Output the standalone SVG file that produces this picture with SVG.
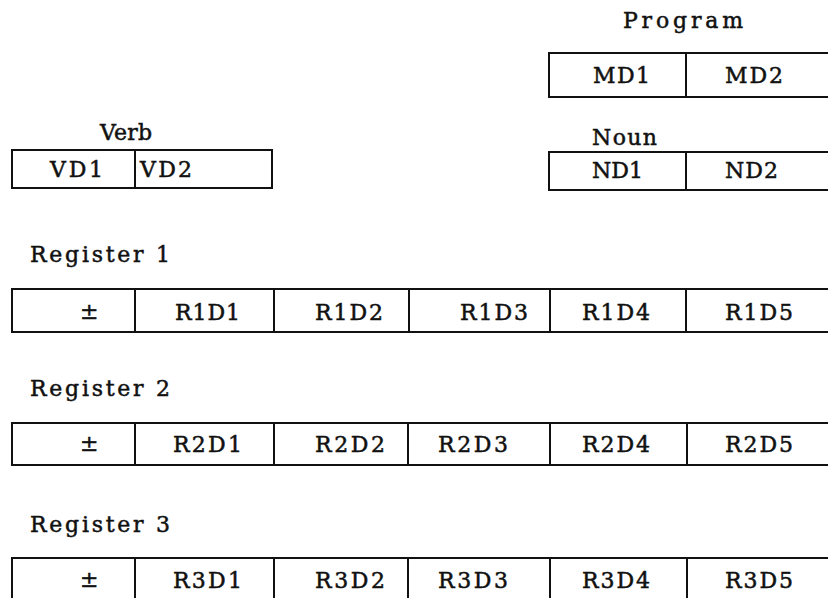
<svg xmlns="http://www.w3.org/2000/svg" width="828" height="598" viewBox="0 0 828 598">
<style>
rect.c{fill:none;stroke:#111;stroke-width:2}
text{font-family:"DejaVu Serif","Liberation Serif",serif;font-size:22px;fill:#111;stroke:#111;stroke-width:0.5}
</style>
<rect width="828" height="598" fill="#fff"/>
<g id="connectors"/>
<g id="program">
<text x="623" y="28" textLength="120" lengthAdjust="spacing">Program</text>
<g id="MD1"><rect class="c" x="549" y="53" width="137" height="44"/><text x="593" y="83" textLength="57" lengthAdjust="spacing">MD1</text></g>
<g id="MD2"><rect class="c" x="686" y="53" width="150" height="44"/><text x="725" y="83" textLength="58" lengthAdjust="spacing">MD2</text></g>
</g>
<g id="verb">
<text x="100" y="140" textLength="52" lengthAdjust="spacing">Verb</text>
<g id="VD1"><rect class="c" x="12" y="150" width="123" height="38"/><text x="50" y="177" textLength="53" lengthAdjust="spacing">VD1</text></g>
<g id="VD2"><rect class="c" x="135" y="150" width="137" height="38"/><text x="140" y="177" textLength="52" lengthAdjust="spacing">VD2</text></g>
</g>
<g id="noun">
<text x="592" y="145" textLength="65" lengthAdjust="spacing">Noun</text>
<g id="ND1"><rect class="c" x="549" y="152" width="137" height="38"/><text x="592" y="178" textLength="51" lengthAdjust="spacing">ND1</text></g>
<g id="ND2"><rect class="c" x="686" y="152" width="150" height="38"/><text x="725" y="178" textLength="53" lengthAdjust="spacing">ND2</text></g>
</g>
<g id="register1">
<text x="30" y="262" textLength="140" lengthAdjust="spacing">Register 1</text>
<g id="R1S"><rect class="c" x="12" y="289" width="123" height="43"/><text x="80" y="319">±</text></g>
<g id="R1D1"><rect class="c" x="135" y="289" width="139" height="43"/><text x="175" y="320" textLength="65" lengthAdjust="spacing">R1D1</text></g>
<g id="R1D2"><rect class="c" x="274" y="289" width="135" height="43"/><text x="315" y="320" textLength="68" lengthAdjust="spacing">R1D2</text></g>
<g id="R1D3"><rect class="c" x="409" y="289" width="141" height="43"/><text x="460" y="320" textLength="68" lengthAdjust="spacing">R1D3</text></g>
<g id="R1D4"><rect class="c" x="550" y="289" width="136" height="43"/><text x="582" y="320" textLength="68" lengthAdjust="spacing">R1D4</text></g>
<g id="R1D5"><rect class="c" x="686" y="289" width="150" height="43"/><text x="725" y="320" textLength="68" lengthAdjust="spacing">R1D5</text></g>
</g>
<g id="register2">
<text x="30" y="396" textLength="140" lengthAdjust="spacing">Register 2</text>
<g id="R2S"><rect class="c" x="12" y="423" width="123" height="42"/><text x="80" y="451">±</text></g>
<g id="R2D1"><rect class="c" x="135" y="423" width="139" height="42"/><text x="173" y="452" textLength="69" lengthAdjust="spacing">R2D1</text></g>
<g id="R2D2"><rect class="c" x="274" y="423" width="134" height="42"/><text x="315" y="452" textLength="70" lengthAdjust="spacing">R2D2</text></g>
<g id="R2D3"><rect class="c" x="408" y="423" width="142" height="42"/><text x="438" y="452" textLength="70" lengthAdjust="spacing">R2D3</text></g>
<g id="R2D4"><rect class="c" x="550" y="423" width="137" height="42"/><text x="582" y="452" textLength="68" lengthAdjust="spacing">R2D4</text></g>
<g id="R2D5"><rect class="c" x="687" y="423" width="150" height="42"/><text x="725" y="452" textLength="68" lengthAdjust="spacing">R2D5</text></g>
</g>
<g id="register3">
<text x="30" y="532" textLength="140" lengthAdjust="spacing">Register 3</text>
<g id="R3S"><rect class="c" x="12" y="558" width="123" height="52"/><text x="80" y="587">±</text></g>
<g id="R3D1"><rect class="c" x="135" y="558" width="139" height="52"/><text x="173" y="588" textLength="69" lengthAdjust="spacing">R3D1</text></g>
<g id="R3D2"><rect class="c" x="274" y="558" width="134" height="52"/><text x="315" y="588" textLength="70" lengthAdjust="spacing">R3D2</text></g>
<g id="R3D3"><rect class="c" x="408" y="558" width="142" height="52"/><text x="438" y="588" textLength="70" lengthAdjust="spacing">R3D3</text></g>
<g id="R3D4"><rect class="c" x="550" y="558" width="137" height="52"/><text x="582" y="588" textLength="68" lengthAdjust="spacing">R3D4</text></g>
<g id="R3D5"><rect class="c" x="687" y="558" width="150" height="52"/><text x="725" y="588" textLength="68" lengthAdjust="spacing">R3D5</text></g>
</g>
</svg>
